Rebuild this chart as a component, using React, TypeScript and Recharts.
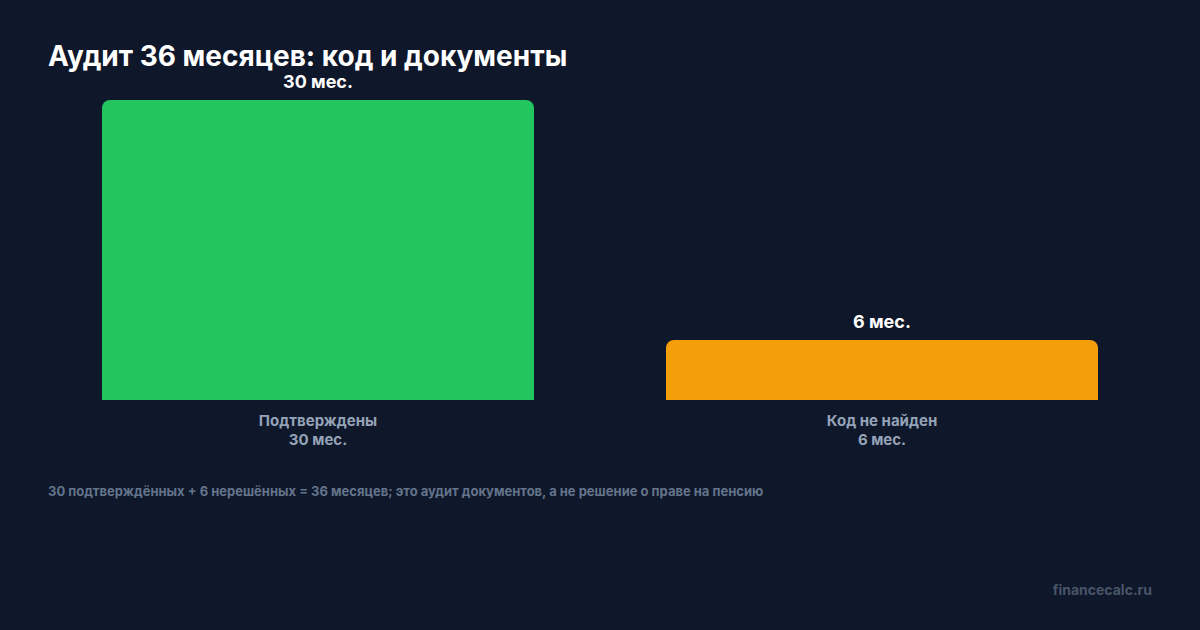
import React from 'react';
import { BarChart, Bar, XAxis, YAxis, Cell, LabelList } from 'recharts';

const categories = ['Подтверждены', 'Код не найден'];
const months = [30, 6];
const barColors = ['#22c55e', '#f59e0b'];

const chartData = categories.map((name, i) => ({ name, value: months[i] }));

const FONT = 'Inter, "Noto Sans", sans-serif';

function TwoLineTick(props: any) {
    const { x, y, payload, index } = props;
    return (
        <g transform={`translate(${x},${y})`}>
            <text textAnchor="middle" fill="#94a3b8" fontSize={15} fontWeight={700} fontFamily={FONT}>
                <tspan x={0} dy={20}>{payload.value}</tspan>
                <tspan x={0} dy={19}>{months[index]} мес.</tspan>
            </text>
        </g>
    );
}

export default function App() {
    return (
        <div style={{ position: 'absolute', left: 0, top: 0, width: 1200, height: 630, background: '#0f172a', fontFamily: FONT, overflow: 'hidden' }}>
            <div style={{ position: 'absolute', left: 48, top: 38, fontSize: 28, fontWeight: 700, color: '#ffffff', lineHeight: '36px' }}>
                Аудит 36 месяцев: код и документы
            </div>

            <div style={{ position: 'absolute', left: 0, top: 0 }}>
                <BarChart
                    width={1200}
                    height={630}
                    data={chartData}
                    margin={{ top: 100, right: 36, bottom: 170, left: 36 }}
                    barCategoryGap={66}
                >
                    <XAxis dataKey="name" axisLine={false} tickLine={false} tick={<TwoLineTick />} height={60} interval={0} tickMargin={0} />
                    <YAxis hide domain={[0, 30]} />
                    <Bar dataKey="value" radius={[8, 8, 0, 0]} isAnimationActive={false}>
                        {chartData.map((d, i) => (
                            <Cell key={d.name} fill={barColors[i]} />
                        ))}
                        <LabelList
                            dataKey="value"
                            position="top"
                            offset={12}
                            formatter={(v: any) => `${v} мес.`}
                            fill="#ffffff"
                            fontSize={18}
                            fontWeight={700}
                            fontFamily={FONT}
                        />
                    </Bar>
                </BarChart>
            </div>

            <div style={{ position: 'absolute', left: 48, top: 482, fontSize: 13, fontWeight: 700, color: '#64748b', lineHeight: '18px' }}>
                30 подтверждённых + 6 нерешённых = 36 месяцев; это аудит документов, а не решение о праве на пенсию
            </div>

            <div style={{ position: 'absolute', right: 48, top: 581, fontSize: 14, fontWeight: 700, color: '#475569', lineHeight: '18px' }}>
                financecalc.ru
            </div>
        </div>
    );
}
